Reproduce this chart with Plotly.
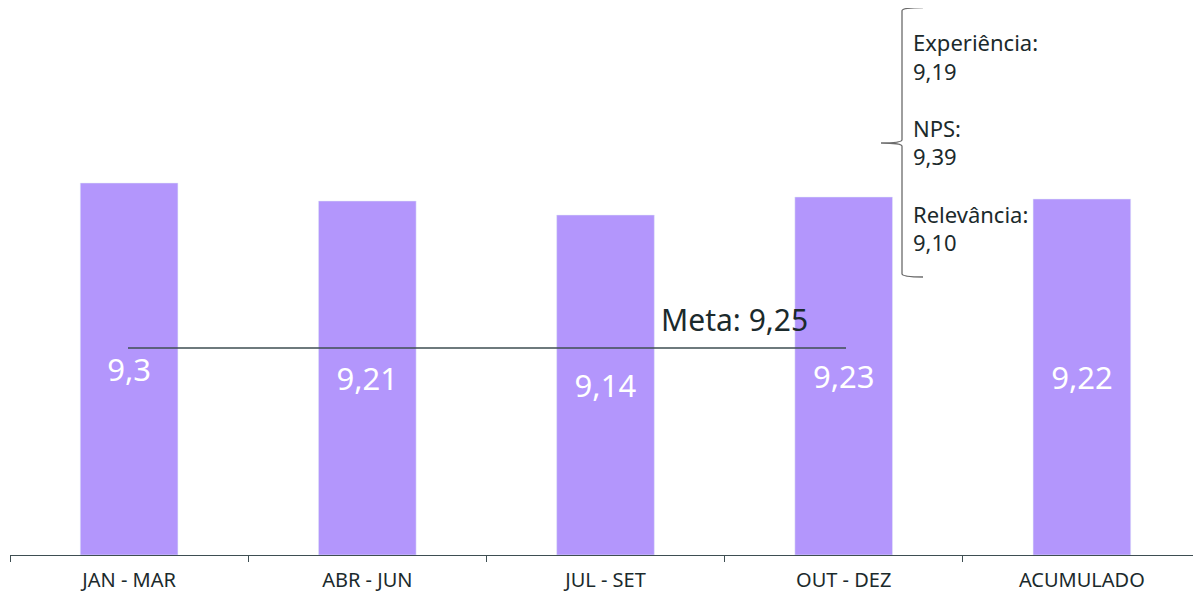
import plotly.graph_objects as go

# a página tem 8px de margem no body
OFF = 8
W, H = 1201 - OFF, 592 - OFF
ML, MR, MT, MB = 2, 0, 0, 37

periodos = ["JAN - MAR", "ABR - JUN", "JUL - SET", "OUT - DEZ", "ACUMULADO"]
notas = [9.30, 9.21, 9.14, 9.23, 9.22]
rotulos = ["9,3", "9,21", "9,14", "9,23", "9,22"]
meta_txt = "Meta: 9,25"
detalhe = ["Experiência:", "9,19", "", "NPS:", "9,39", "", "Relevância:", "9,10"]
y_min = 7.44

COR_BARRA = "#B396FC"
COR_TEXTO = "#1B2A2C"
COR_LINHA = "#3E4E52"
FONTE = "Noto Sans"


def px_x(x):
    return (x - OFF - ML) / (W - ML - MR)


def px_y(y):
    return (H - MB - (y - OFF)) / (H - MT - MB)


fig = go.Figure(go.Bar(
    x=periodos, y=[n - y_min for n in notas], base=y_min, text=rotulos,
    marker_color=COR_BARRA,
    textposition="inside", insidetextanchor="middle", textangle=0,
    textfont=dict(color="white", size=31, family=FONTE),
    hoverinfo="skip",
))

# linha da meta (decorativa, fora de escala)
fig.add_shape(type="line", xref="paper", yref="paper",
              x0=px_x(128), x1=px_x(846), y0=px_y(348), y1=px_y(348),
              line=dict(color=COR_LINHA, width=1.5))
fig.add_annotation(text=meta_txt, xref="paper", yref="paper",
                   x=px_x(659), y=px_y(342), xanchor="left", yanchor="bottom",
                   showarrow=False, font=dict(size=30, color=COR_TEXTO, family=FONTE))

# chave
x_end, x_mid, x_tip = px_x(923), px_x(902), px_x(881)
y_top, y_tip, y_bot = px_y(7.5), px_y(143), px_y(277)
dy = (y_top - y_bot) * 0.012
path = (f"M {x_end},{y_top} Q {x_mid},{y_top} {x_mid},{y_top - dy} "
        f"L {x_mid},{y_tip + dy} Q {x_mid},{y_tip} {x_tip},{y_tip} "
        f"Q {x_mid},{y_tip} {x_mid},{y_tip - dy} "
        f"L {x_mid},{y_bot + dy} Q {x_mid},{y_bot} {x_end},{y_bot}")
fig.add_shape(type="path", path=path, xref="paper", yref="paper",
              line=dict(color="#6B6B6B", width=1.3))
fig.add_annotation(text="<br>".join(detalhe), xref="paper", yref="paper",
                   x=px_x(911), y=px_y(142), xanchor="left", yanchor="middle",
                   align="left", showarrow=False,
                   font=dict(size=22, color=COR_TEXTO, family=FONTE))

fig.update_layout(
    width=W, height=H,
    margin=dict(l=ML, r=MR, t=MT, b=MB),
    plot_bgcolor="white", paper_bgcolor="white",
    bargap=0.59, showlegend=False,
    font=dict(family=FONTE, color=COR_TEXTO),
)
fig.update_xaxes(showline=True, linecolor=COR_LINHA, linewidth=1.3,
                 ticks="outside", tickson="boundaries", ticklen=6,
                 tickcolor=COR_LINHA, showgrid=False, ticklabelstandoff=7,
                 tickfont=dict(size=20, color=COR_TEXTO, family=FONTE))
fig.update_yaxes(range=[y_min, y_min + (H - MT - MB) / 200], visible=False, showgrid=False)

fig.write_html("out.html")
